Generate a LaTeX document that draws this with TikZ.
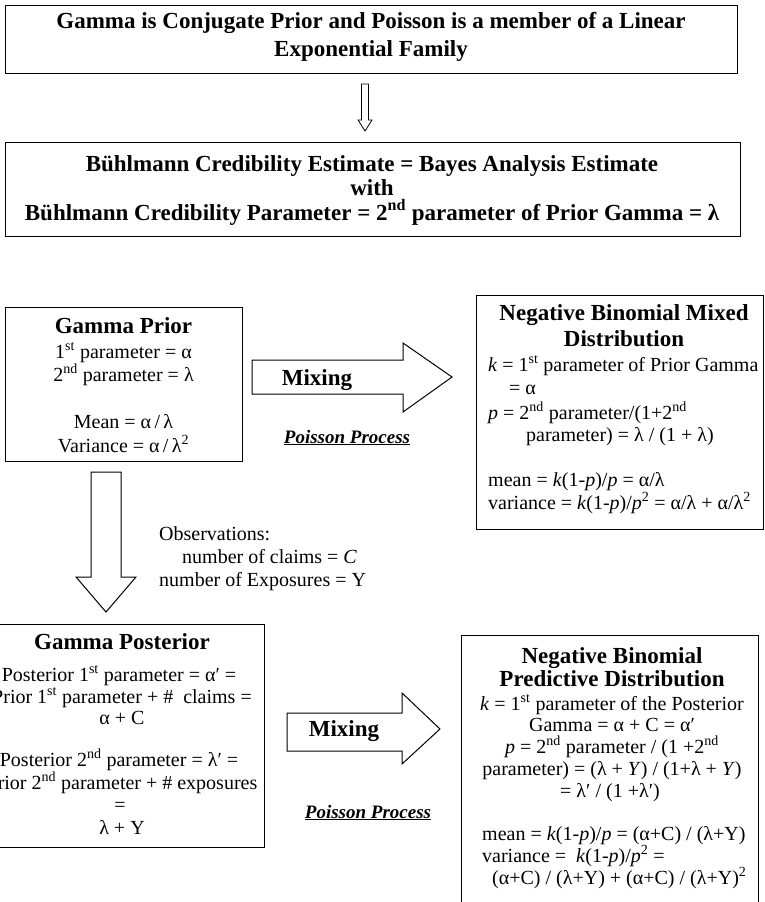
\documentclass[tikz,border=0pt]{standalone}
\usepackage{fontspec}
\setmainfont{Liberation Serif}
\begin{document}
\begin{tikzpicture}[x=1pt,y=-1pt,
  box/.style={draw, line width=1.1pt, inner sep=0pt, anchor=north west},
  barrow/.style={draw, line width=1pt, fill=white, line join=miter},
  tx/.style={inner sep=0pt, font=\fontsize{20}{23}\selectfont},
  bt/.style={inner sep=0pt, font=\fontsize{23}{26}\selectfont\bfseries},
  pp/.style={inner sep=0pt, font=\fontsize{19}{22}\selectfont\bfseries\itshape}]
\useasboundingbox (0,0) rectangle (765,902);

% boxes
\node[box, minimum width=732pt, minimum height=68pt] (top) at (5,5) {};
\node[box, minimum width=735pt, minimum height=94pt] (buhl) at (5,142) {};
\node[box, minimum width=237pt, minimum height=154pt] (prior) at (5,307) {};
\node[box, minimum width=287pt, minimum height=234pt] (mixed) at (476,295) {};
\node[box, minimum width=284pt, minimum height=223pt] (post) at (-20,624) {};
\node[box, minimum width=297pt, minimum height=290pt] (pred) at (461,635) {};

% top box text
\node[bt, anchor=base] (t1) at (371,28.5) {Gamma is Conjugate Prior and Poisson is a member of a Linear};
\node[bt, anchor=base] (t2) at (371,56) {Exponential Family};

% small arrow
\draw[barrow, line width=0.8pt] (361.5,84) -- (368.5,84) -- (368.5,120) -- (372,120) -- (365,131) -- (358,120) -- (361.5,120) -- cycle;

% Buhlmann box text
\node[bt, anchor=base] (b1) at (372,171) {Bühlmann Credibility Estimate = Bayes Analysis Estimate};
\node[bt, anchor=base] (b2) at (372,195) {with};
\node[bt, anchor=base] (b3) at (372,220) {Bühlmann Credibility Parameter = 2\textsuperscript{nd} parameter of Prior Gamma = λ};

% Gamma prior
\node[bt, anchor=base] (p0) at (123.5,333) {Gamma Prior};
\node[tx, anchor=base] (p1) at (123.5,358) {1\textsuperscript{st} parameter = α};
\node[tx, anchor=base] (p2) at (123.5,381) {2\textsuperscript{nd} parameter = λ};
\node[tx, anchor=base] (p3) at (123.5,428) {Mean = α\,/\,λ};
\node[tx, anchor=base] (p4) at (123.5,452) {Variance = α\,/\,λ\textsuperscript{2}};

% Mixing arrow 1
\draw[barrow] (252,360) -- (403,360) -- (403,343) -- (452,377) -- (403,412) -- (403,394) -- (252,394) -- cycle;
\node[bt, anchor=base] (m1) at (317,385) {Mixing};
\node[pp, anchor=base] (pp1) at (347,443) {\underline{Poisson Process}};

% down arrow
\draw[barrow] (91,472) -- (121,472) -- (121,577) -- (136,577) -- (106,612) -- (76,577) -- (91,577) -- cycle;
\node[tx, anchor=base west] (o1) at (159,540) {Observations:};
\node[tx, anchor=base west] (o2) at (182,563) {number of claims = \textit{C}};
\node[tx, anchor=base west] (o3) at (159,586) {number of Exposures = Y};

% NB mixed
\node[bt, anchor=base] (n0) at (624,320) {Negative Binomial Mixed};
\node[bt, anchor=base] (n1) at (624,346) {Distribution};
\node[tx, anchor=base west] (n2) at (488,371) {\textit{k} = 1\textsuperscript{st} parameter of Prior Gamma};
\node[tx, anchor=base west] (n3) at (509,394) {= α};
\node[tx, anchor=base west] (n4) at (488,419) {\textit{p} = 2\textsuperscript{nd} parameter/(1+2\textsuperscript{nd}};
\node[tx, anchor=base west] (n5) at (526,441) {parameter) = λ / (1 + λ)};
\node[tx, anchor=base west] (n6) at (488,486) {mean = \textit{k}(1-\textit{p})/\textit{p} = α/λ};
\node[tx, anchor=base west] (n7) at (488,509) {variance = \textit{k}(1-\textit{p})/\textit{p}\textsuperscript{2} = α/λ + α/λ\textsuperscript{2}};

% Gamma posterior
\node[bt, anchor=base] (g0) at (122,649) {Gamma Posterior};
\node[tx, anchor=base] (g1) at (119,681) {Posterior 1\textsuperscript{st} parameter = α′ =};
\node[tx, anchor=base] (g2) at (122,703) {Prior 1\textsuperscript{st} parameter + \#\ \ claims =};
\node[tx, anchor=base] (g3) at (122,724) {α + C};
\node[tx, anchor=base] (g4) at (119,766) {Posterior 2\textsuperscript{nd} parameter = λ′ =};
\node[tx, anchor=base] (g5) at (122,789) {Prior 2\textsuperscript{nd} parameter + \# exposures};
\node[tx, anchor=base] (g6) at (120,811) {=};
\node[tx, anchor=base] (g7) at (122,834) {λ + Y};

% Mixing arrow 2
\draw[barrow] (287,713) -- (402,713) -- (402,693) -- (440,729) -- (402,764) -- (402,751) -- (287,751) -- cycle;
\node[bt, anchor=base] (m2) at (344,736) {Mixing};
\node[pp, anchor=base] (pp2) at (368,818) {\underline{Poisson Process}};

% NB predictive
\node[bt, anchor=base] (q0) at (612,663) {Negative Binomial};
\node[bt, anchor=base] (q1) at (612,686) {Predictive Distribution};
\node[tx, anchor=base] (q2) at (612,710) {\textit{k} = 1\textsuperscript{st} parameter of the Posterior};
\node[tx, anchor=base] (q3) at (612,731) {Gamma = α + C = α′};
\node[tx, anchor=base] (q4) at (612,753) {\textit{p} = 2\textsuperscript{nd} parameter / (1 +2\textsuperscript{nd}};
\node[tx, anchor=base] (q5) at (612,775) {parameter) = (λ + \textit{Y}) / (1+λ + \textit{Y})};
\node[tx, anchor=base] (q6) at (610,797) {= λ′ / (1 +λ′)};
\node[tx, anchor=base west] (q7) at (482,840) {mean = \textit{k}(1-\textit{p})/\textit{p} = (α+C) / (λ+Y)};
\node[tx, anchor=base west] (q8) at (482,862) {variance = \ \textit{k}(1-\textit{p})/\textit{p}\textsuperscript{2} =};
\node[tx, anchor=base west] (q9) at (492,884) {(α+C) / (λ+Y) + (α+C) / (λ+Y)\textsuperscript{2}};
\end{tikzpicture}
\end{document}
